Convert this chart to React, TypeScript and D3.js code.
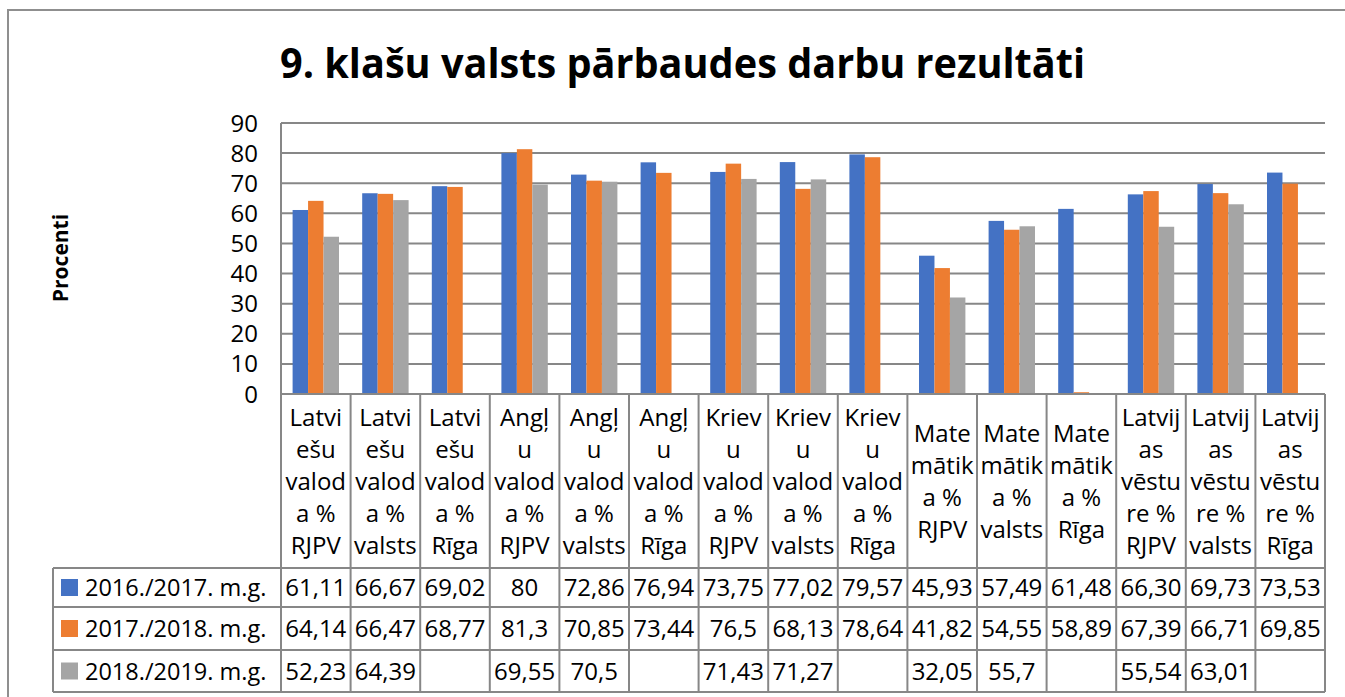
import React from "react";
import * as d3 from "d3";

const title = "9. klašu valsts pārbaudes darbu rezultāti";
const yAxisTitle = "Procenti";
const yTicks = [0, 10, 20, 30, 40, 50, 60, 70, 80, 90];

const categoryLines: string[][] = [
  ["Latvi", "ešu", "valod", "a %", "RJPV"],
  ["Latvi", "ešu", "valod", "a %", "valsts"],
  ["Latvi", "ešu", "valod", "a %", "Rīga"],
  ["Angļ", "u", "valod", "a %", "RJPV"],
  ["Angļ", "u", "valod", "a %", "valsts"],
  ["Angļ", "u", "valod", "a %", "Rīga"],
  ["Kriev", "u", "valod", "a %", "RJPV"],
  ["Kriev", "u", "valod", "a %", "valsts"],
  ["Kriev", "u", "valod", "a %", "Rīga"],
  ["Mate", "mātik", "a %", "RJPV"],
  ["Mate", "mātik", "a %", "valsts"],
  ["Mate", "mātik", "a %", "Rīga"],
  ["Latvij", "as", "vēstu", "re %", "RJPV"],
  ["Latvij", "as", "vēstu", "re %", "valsts"],
  ["Latvij", "as", "vēstu", "re %", "Rīga"],
];

const seriesNames = ["2016./2017. m.g.", "2017./2018. m.g.", "2018./2019. m.g."];
const seriesColors = ["#4472C4", "#ED7D31", "#A5A5A5"];

const values2017: (number | null)[] = [61.11, 66.67, 69.02, 80, 72.86, 76.94, 73.75, 77.02, 79.57, 45.93, 57.49, 61.48, 66.3, 69.73, 73.53];
const values2018: (number | null)[] = [64.14, 66.47, 68.77, 81.3, 70.85, 73.44, 76.5, 68.13, 78.64, 41.82, 54.55, 0.5889, 67.39, 66.71, 69.85];
const values2019: (number | null)[] = [52.23, 64.39, null, 69.55, 70.5, null, 71.43, 71.27, null, 32.05, 55.7, null, 55.54, 63.01, null];

const labels2017 = ["61,11", "66,67", "69,02", "80", "72,86", "76,94", "73,75", "77,02", "79,57", "45,93", "57,49", "61,48", "66,30", "69,73", "73,53"];
const labels2018 = ["64,14", "66,47", "68,77", "81,3", "70,85", "73,44", "76,5", "68,13", "78,64", "41,82", "54,55", "58,89", "67,39", "66,71", "69,85"];
const labels2019 = ["52,23", "64,39", "", "69,55", "70,5", "", "71,43", "71,27", "", "32,05", "55,7", "", "55,54", "63,01", ""];

const seriesValues = [values2017, values2018, values2019];
const seriesLabels = [labels2017, labels2018, labels2019];

const FONT = "'Open Sans', 'Noto Sans', sans-serif";
const GRID = "#878787";

export default function App() {
  const plotLeft = 281;
  const plotRight = 1325;
  const plotTop = 123;
  const plotBottom = 394;
  const headerBottom = 568;
  const rowLines = [568, 607, 650, 692];
  const tableLeft = 53;
  const fs = 24;

  const idx = categoryLines.map((_, i) => String(i));
  const x = d3.scaleBand<string>().domain(idx).range([plotLeft, plotRight]).paddingInner(0).paddingOuter(0);
  const bw = x.bandwidth();
  const barW = bw / 4.5;
  const barOffset = barW * 0.75;
  const y = d3.scaleLinear().domain([0, 90]).range([plotBottom, plotTop]);

  const boundaries = d3.range(categoryLines.length + 1).map((i) => plotLeft + i * bw);

  return (
    <svg
      width={1345}
      height={697}
      style={{ position: "absolute", left: 0, top: 0, background: "#fff" }}
      fontFamily={FONT}
    >
      <rect x={0} y={0} width={1345} height={697} fill="#fff" />
      {/* chart frame */}
      <rect x={8} y={10} width={1400} height={700} fill="none" stroke="#8f8f8f" strokeWidth={2} />

      {/* title */}
      <text
        x={280}
        y={78}
        fontSize={42}
        fontWeight="bold"
        textLength={805}
        lengthAdjust="spacingAndGlyphs"
        fill="#000"
      >
        {title}
      </text>

      {/* y axis title */}
      <text
        transform={`translate(68,258) rotate(-90)`}
        textAnchor="middle"
        fontSize={21}
        fontWeight="bold"
        fill="#000"
      >
        {yAxisTitle}
      </text>

      {/* gridlines */}
      {yTicks.map((t) => (
        <line key={"g" + t} x1={plotLeft} x2={plotRight} y1={y(t)} y2={y(t)} stroke={GRID} strokeWidth={2} />
      ))}
      {/* tick labels */}
      {yTicks.map((t) => (
        <text key={"t" + t} x={258} y={y(t) + 8.5} textAnchor="end" fontSize={fs} fill="#000">
          {t}
        </text>
      ))}

      {/* bars */}
      {seriesValues.map((vals, s) =>
        vals.map((v, i) =>
          v == null ? null : (
            <rect
              key={`b${s}-${i}`}
              x={(x(String(i)) as number) + barOffset + s * barW}
              y={y(v)}
              width={barW}
              height={y(0) - y(v)}
              fill={seriesColors[s]}
            />
          )
        )
      )}

      {/* vertical axis line */}
      <line x1={plotLeft} x2={plotLeft} y1={plotTop} y2={rowLines[3]} stroke={GRID} strokeWidth={2} />
      {/* axis / header top */}
      <line x1={plotLeft} x2={plotRight} y1={plotBottom} y2={plotBottom} stroke={GRID} strokeWidth={2} />

      {/* header cell separators */}
      {boundaries.map((bx, i) => (
        <line key={"hv" + i} x1={bx} x2={bx} y1={plotBottom} y2={rowLines[3]} stroke={GRID} strokeWidth={2} />
      ))}
      {/* row lines */}
      {rowLines.map((ry, i) => (
        <line key={"rl" + i} x1={tableLeft} x2={plotRight} y1={ry} y2={ry} stroke={GRID} strokeWidth={2} />
      ))}
      <line x1={tableLeft} x2={tableLeft} y1={rowLines[0]} y2={rowLines[3]} stroke={GRID} strokeWidth={2} />

      {/* category labels */}
      {categoryLines.map((lines, i) => {
        const cx = (x(String(i)) as number) + bw / 2;
        const center = (plotBottom + headerBottom) / 2;
        return (
          <text key={"c" + i} textAnchor="middle" fontSize={fs} fill="#000">
            {lines.map((ln, j) => (
              <tspan key={j} x={cx} y={center + (j - (lines.length - 1) / 2) * 32 + 9}>
                {ln}
              </tspan>
            ))}
          </text>
        );
      })}

      {/* legend rows */}
      {seriesNames.map((name, s) => {
        const cy = (rowLines[s] + rowLines[s + 1]) / 2;
        return (
          <g key={"lg" + s}>
            <rect x={61} y={cy - 8.5} width={17} height={17} fill={seriesColors[s]} />
            <text x={85} y={cy + 8.5} fontSize={23.5} fill="#000">
              {name}
            </text>
            {seriesLabels[s].map((lab, i) => (
              <text
                key={"v" + s + "-" + i}
                x={(x(String(i)) as number) + bw / 2}
                y={cy + 8.5}
                textAnchor="middle"
                fontSize={fs}
                fill="#000"
              >
                {lab}
              </text>
            ))}
          </g>
        );
      })}
    </svg>
  );
}
